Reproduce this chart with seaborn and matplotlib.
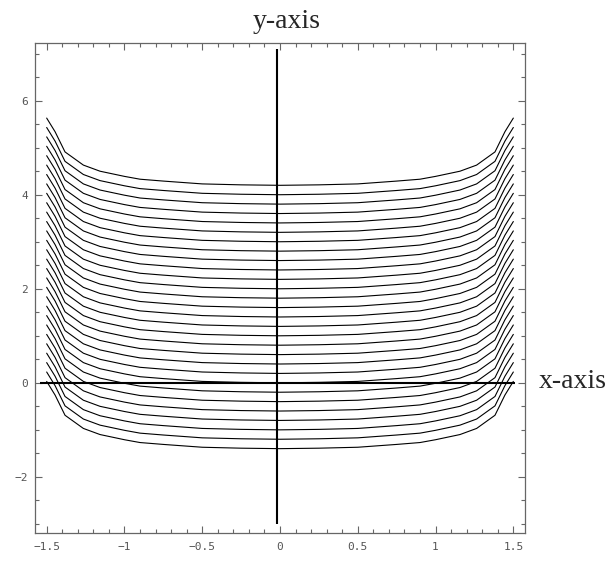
import numpy as np
import pandas as pd
import matplotlib
matplotlib.use("Agg")
import matplotlib.pyplot as plt
import seaborn as sns
from matplotlib.ticker import MultipleLocator, FixedLocator

# ---- data ----
# shape of every contour curve (offset relative to its centre value)
profile_x = [-1.5, -1.446, -1.382, -1.264, -1.157, -1.0, -0.9, -0.75, -0.5, -0.25, 0.0,
             0.25, 0.5, 0.75, 0.9, 1.0, 1.157, 1.264, 1.382, 1.446, 1.5]
profile_dy = [1.43, 1.14, 0.71, 0.43, 0.30, 0.19, 0.13, 0.09, 0.03, 0.01, 0.0,
              0.01, 0.03, 0.09, 0.13, 0.19, 0.30, 0.43, 0.71, 1.14, 1.43]
# centre value of every curve
levels = [-1.4, -1.2, -1.0, -0.8, -0.6, -0.4, -0.2, 0.0, 0.2, 0.4, 0.6, 0.8, 1.0,
          1.2, 1.4, 1.6, 1.8, 2.0, 2.2, 2.4, 2.6, 2.8, 3.0, 3.2, 3.4, 3.6, 3.8, 4.0, 4.2]
x_ticks = [-1.5, -1, -0.5, 0, 0.5, 1, 1.5]
x_tick_labels = ["\u22121.5", "\u22121", "\u22120.5", "0", "0.5", "1", "1.5"]
y_ticks = [-2, 0, 2, 4, 6]
y_tick_labels = ["\u22122", "0", "2", "4", "6"]

rows = []
for lv in levels:
    for xv, dv in zip(profile_x, profile_dy):
        rows.append({"x": xv, "y": lv + dv, "level": lv})
df = pd.DataFrame(rows)

sns.set_style("white")

fig = plt.figure(figsize=(6.1, 5.61), dpi=100)
ax = fig.add_axes([35 / 610, 1 - 533.3 / 561, (525 - 35) / 610, (533.3 - 43.3) / 561])

sns.lineplot(data=df, x="x", y="y", units="level", estimator=None, sort=False,
             color="black", linewidth=0.8, ax=ax, legend=False)

# axis lines
ax.plot([-0.017, -0.017], [-3.0, 7.09], color="black", lw=1.5, solid_capstyle="butt")
ax.plot([-1.54, 1.51], [0, 0], color="black", lw=1.5, solid_capstyle="butt")

ax.set_xlim(-1.575, 1.575)
ax.set_ylim(-3.2, 7.22)
ax.set_xlabel("")
ax.set_ylabel("")

ax.xaxis.set_major_locator(FixedLocator(x_ticks))
ax.set_xticklabels(x_tick_labels)
ax.yaxis.set_major_locator(FixedLocator(y_ticks))
ax.set_yticklabels(y_tick_labels)
ax.xaxis.set_minor_locator(MultipleLocator(0.1))
ax.yaxis.set_minor_locator(MultipleLocator(0.5))

grey = "#666666"
ax.tick_params(which="both", direction="in", top=True, right=True, bottom=True, left=True,
               color=grey, width=0.8)
ax.tick_params(which="major", length=5, labelsize=8, labelcolor="#555555")
ax.tick_params(axis="x", which="major", pad=6)
ax.tick_params(axis="y", which="major", pad=5)
ax.tick_params(which="minor", length=3)
for lab in ax.get_xticklabels() + ax.get_yticklabels():
    lab.set_fontfamily("DejaVu Sans Mono")
for sp in ax.spines.values():
    sp.set_color(grey)
    sp.set_linewidth(0.9)

fig.text(286.7 / 610, 1 - 22 / 561, "y-axis", ha="center", va="center",
         fontsize=20, family="Liberation Serif")
fig.text(539 / 610, 1 - 382 / 561, "x-axis", ha="left", va="center",
         fontsize=20, family="Liberation Serif")

fig.savefig("out.png", dpi=100)
